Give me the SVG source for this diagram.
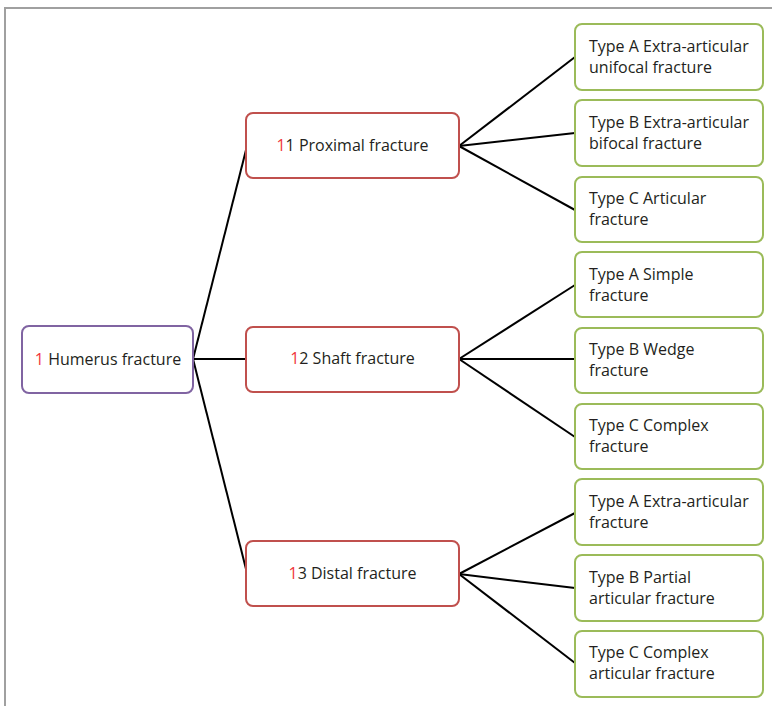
<svg xmlns="http://www.w3.org/2000/svg" width="772" height="706" viewBox="0 0 772 706">
<style>
text{font-family:"Open Sans","Noto Sans","Liberation Sans",sans-serif;font-size:16px;fill:#231f20}
.n{fill:#f0353c}
.root{fill:#fff;stroke:#8064a2;stroke-width:2}
.mid{fill:#fff;stroke:#c0504d;stroke-width:2}
.leaf{fill:#fff;stroke:#9bbb59;stroke-width:2}
.c line{stroke:#000;stroke-width:2}
.m{text-anchor:middle}
</style>
<rect width="772" height="706" fill="#fff"/>
<path d="M5 706V8H772" fill="none" stroke="#a0a0a0" stroke-width="2"/>
<g class="c" id="connectors">
<line x1="193" y1="359" x2="246" y2="150"/>
<line x1="193" y1="359" x2="246" y2="359"/>
<line x1="193" y1="359" x2="246" y2="569"/>
<line x1="459" y1="146" x2="575" y2="57"/>
<line x1="459" y1="146" x2="575" y2="133"/>
<line x1="459" y1="146" x2="575" y2="210"/>
<line x1="459" y1="359" x2="575" y2="285"/>
<line x1="459" y1="359" x2="575" y2="359"/>
<line x1="459" y1="359" x2="575" y2="437"/>
<line x1="459" y1="574" x2="575" y2="513"/>
<line x1="459" y1="574" x2="575" y2="588"/>
<line x1="459" y1="574" x2="575" y2="663"/>
</g>
<g id="root"><rect class="root" x="22" y="326" width="171" height="67" rx="7"/><text class="m" x="108" y="365"><tspan class="n">1</tspan> Humerus fracture</text></g>
<g id="proximal"><rect class="mid" x="246" y="113" width="213" height="65" rx="7"/><text class="m" x="352.5" y="151"><tspan class="n">1</tspan>1 Proximal fracture</text></g>
<g id="shaft"><rect class="mid" x="246" y="327" width="213" height="65" rx="7"/><text class="m" x="352.5" y="364"><tspan class="n">1</tspan>2 Shaft fracture</text></g>
<g id="distal"><rect class="mid" x="246" y="541" width="213" height="65" rx="7"/><text class="m" x="352.5" y="579"><tspan class="n">1</tspan>3 Distal fracture</text></g>
<g id="l1"><rect class="leaf" x="575" y="24" width="188" height="66" rx="7"/><text x="589" y="52">Type A Extra-articular</text><text x="589" y="73">unifocal fracture</text></g>
<g id="l2"><rect class="leaf" x="575" y="100" width="188" height="66" rx="7"/><text x="589" y="128">Type B Extra-articular</text><text x="589" y="149">bifocal fracture</text></g>
<g id="l3"><rect class="leaf" x="575" y="177" width="188" height="65" rx="7"/><text x="589" y="204">Type C Articular</text><text x="589" y="225">fracture</text></g>
<g id="l4"><rect class="leaf" x="575" y="252" width="188" height="65" rx="7"/><text x="589" y="280">Type A Simple</text><text x="589" y="301">fracture</text></g>
<g id="l5"><rect class="leaf" x="575" y="328" width="188" height="65" rx="7"/><text x="589" y="355">Type B Wedge</text><text x="589" y="376">fracture</text></g>
<g id="l6"><rect class="leaf" x="575" y="404" width="188" height="65" rx="7"/><text x="589" y="431">Type C Complex</text><text x="589" y="452">fracture</text></g>
<g id="l7"><rect class="leaf" x="575" y="479" width="188" height="66" rx="7"/><text x="589" y="507">Type A Extra-articular</text><text x="589" y="528">fracture</text></g>
<g id="l8"><rect class="leaf" x="575" y="555" width="188" height="66" rx="7"/><text x="589" y="583">Type B Partial</text><text x="589" y="604">articular fracture</text></g>
<g id="l9"><rect class="leaf" x="575" y="631" width="188" height="66" rx="7"/><text x="589" y="658">Type C Complex</text><text x="589" y="679">articular fracture</text></g>
</svg>
